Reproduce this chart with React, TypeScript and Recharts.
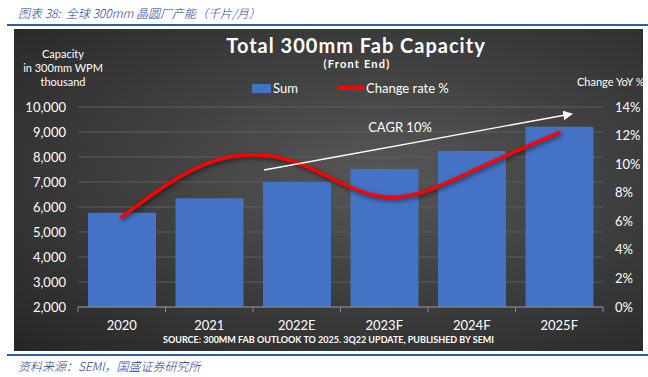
import React from 'react'
import {
  ComposedChart,
  Bar,
  Line,
  XAxis,
  YAxis,
  CartesianGrid,
} from 'recharts'

const years = ['2020', '2021', '2022E', '2023F', '2024F', '2025F']
const capacity = [5770, 6350, 7000, 7520, 8240, 9210]
const changeRate = [6.3, 10.1, 10.1, 7.7, 9.5, 12.2]
const capacityTicks = [2000, 3000, 4000, 5000, 6000, 7000, 8000, 9000, 10000]
const rateTicks = [0, 2, 4, 6, 8, 10, 12, 14]

const data = years.map((year, i) => ({ year, sum: capacity[i], rate: changeRate[i] }))

const FONT = 'Lato, "Open Sans", sans-serif'
const CJK = '"Noto Sans CJK SC", sans-serif'
const BAND = (603 - 78) / years.length

function XTick({ x, y, payload, index }: { x?: number; y?: number; payload?: { value: string }; index?: number }) {
  const cx = x ?? 0
  const cy = y ?? 0
  return (
    <g>
      <line x1={cx - BAND / 2} x2={cx - BAND / 2} y1={cy - 14} y2={cy - 9} stroke="#8c8c8c" />
      {index === years.length - 1 && (
        <line x1={cx + BAND / 2} x2={cx + BAND / 2} y1={cy - 14} y2={cy - 9} stroke="#8c8c8c" />
      )}
      <text x={cx} y={cy} dy="0.71em" textAnchor="middle" fill="#fff" fontSize={13} fontFamily={FONT}>
        {payload?.value}
      </text>
    </g>
  )
}

export default function App() {
  return (
    <div style={{ position: 'relative', width: 648, height: 377, background: '#fff', fontFamily: FONT }}>
      <style>{'body{margin:0}'}</style>

      {/* header */}
      <div style={{ position: 'absolute', left: 18, top: 4, fontSize: 12, fontStyle: 'italic', fontWeight: 300, color: '#1d3f8c', fontFamily: CJK, whiteSpace: 'nowrap' }}>
        图表 38:&nbsp; 全球 300mm 晶圆厂产能（千片/月）
      </div>
      <div style={{ position: 'absolute', left: 7, top: 24, width: 641, height: 2, background: '#2f5da8' }} />

      {/* dark panel */}
      <div
        style={{
          position: 'absolute',
          left: 14,
          top: 29,
          width: 629,
          height: 322,
          background: 'radial-gradient(ellipse at 58% 45%, #575757 0%, #404040 45%, #262626 100%)',
        }}
      />

      <div style={{ position: 'absolute', left: 0, top: 0 }}>
        <ComposedChart width={648} height={377} data={data} margin={{ top: 107, right: 5, bottom: 40, left: 18 }}>
          <CartesianGrid yAxisId="left" vertical={false} stroke="#5e5e5e" strokeWidth={1} />
          <XAxis
            dataKey="year"
            height={30}
            tickLine={false}
            tickMargin={8}
            axisLine={{ stroke: '#8c8c8c' }}
            tick={<XTick />}
            interval={0}
          />
          <YAxis
            yAxisId="left"
            width={60}
            domain={[2000, 10000]}
            ticks={capacityTicks}
            tickFormatter={(v: number) => v.toLocaleString('en-US')}
            axisLine={false}
            tickLine={false}
            tickMargin={6}
            tick={{ fill: '#fff', fontSize: 13, fontFamily: FONT }}
          />
          <YAxis
            yAxisId="right"
            orientation="right"
            width={40}
            domain={[0, 14]}
            ticks={rateTicks}
            tickFormatter={(v: number) => `${v}%`}
            axisLine={false}
            tickLine={false}
            tickMargin={6}
            tick={{ fill: '#fff', fontSize: 13, fontFamily: FONT }}
          />
          <Bar yAxisId="left" dataKey="sum" fill="#4472C4" barSize={68} isAnimationActive={false} />
          <Line
            yAxisId="right"
            dataKey="rate"
            type="natural"
            stroke="#FF0000"
            strokeWidth={3.5}
            dot={false}
            strokeLinecap="round"
            style={{ filter: 'drop-shadow(1px 2px 2px rgba(0,0,0,0.55))' }}
            isAnimationActive={false}
          />
        </ComposedChart>
      </div>

      {/* CAGR arrow */}
      <svg width={648} height={377} style={{ position: 'absolute', left: 0, top: 0, pointerEvents: 'none' }}>
        <defs>
          <marker id="arr" viewBox="0 0 10 10" refX="8" refY="5" markerWidth="7" markerHeight="7" orient="auto">
            <path d="M0,0 L10,5 L0,10 z" fill="#fff" />
          </marker>
        </defs>
        <line x1={264} y1={170} x2={571} y2={114} stroke="#fff" strokeWidth={1.4} markerEnd="url(#arr)" />
        <text x={400} y={132} textAnchor="middle" fill="#fff" fontSize={13} fontFamily={FONT}>CAGR 10%</text>
      </svg>

      {/* titles */}
      <div style={{ position: 'absolute', left: 0, width: 712, top: 33, textAlign: 'center', color: '#fff', fontWeight: 700, fontSize: 20, letterSpacing: 1 }}>
        Total 300mm Fab Capacity
      </div>
      <div style={{ position: 'absolute', left: 0, width: 714, top: 57, textAlign: 'center', color: '#fff', fontWeight: 700, fontSize: 11, letterSpacing: 1.2 }}>
        (Front End)
      </div>

      {/* axis titles */}
      <div style={{ position: 'absolute', left: 13, width: 100, top: 47, textAlign: 'center', color: '#fff', fontSize: 11, lineHeight: '14px' }}>
        Capacity<br />in 300mm WPM<br />thousand
      </div>
      <div style={{ position: 'absolute', left: 577, top: 75, color: '#fff', fontSize: 11, whiteSpace: 'nowrap' }}>
        Change YoY %
      </div>

      {/* legend */}
      <div style={{ position: 'absolute', left: 252, top: 84, width: 19, height: 9, background: '#4472C4' }} />
      <div style={{ position: 'absolute', left: 273, top: 80, color: '#fff', fontSize: 13 }}>Sum</div>
      <div style={{ position: 'absolute', left: 337, top: 86, width: 28, height: 4, borderRadius: 2, background: '#FF0000' }} />
      <div style={{ position: 'absolute', left: 366, top: 80, color: '#fff', fontSize: 13 }}>Change rate %</div>

      {/* source in panel */}
      <div style={{ position: 'absolute', left: 14, width: 629, top: 334, textAlign: 'center', color: '#fff', fontWeight: 700, fontSize: 9, whiteSpace: 'nowrap' }}>
        SOURCE: 300MM FAB OUTLOOK TO 2025. 3Q22 UPDATE, PUBLISHED BY SEMI
      </div>

      {/* footer */}
      <div style={{ position: 'absolute', left: 7, top: 354, width: 641, height: 2, background: '#2f5da8' }} />
      <div style={{ position: 'absolute', left: 18, top: 357, fontSize: 12, fontStyle: 'italic', fontWeight: 300, color: '#1d3f8c', fontFamily: CJK, whiteSpace: 'nowrap' }}>
        资料来源：SEMI，国盛证券研究所
      </div>
    </div>
  )
}
